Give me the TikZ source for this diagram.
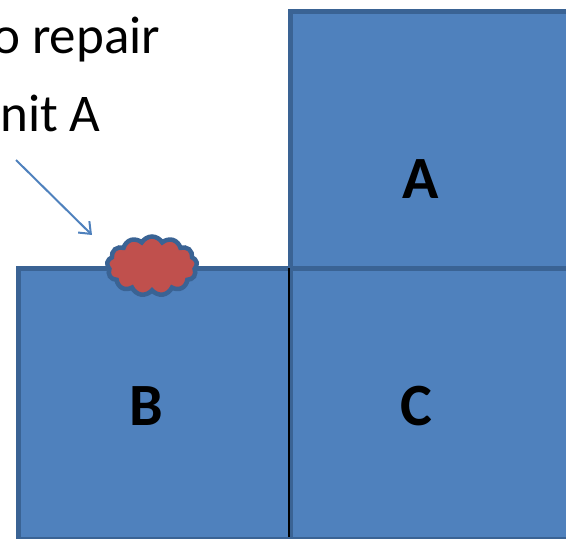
\documentclass[tikz,border=0pt]{standalone}
\usepackage{fontspec}
\setmainfont{Carlito}
\usetikzlibrary{arrows.meta,shapes.symbols}
\definecolor{boxfill}{HTML}{4F81BD}
\definecolor{boxline}{HTML}{3A6394}
\definecolor{dmgfill}{HTML}{C0504D}
\tikzset{
  unitbox/.style={draw=boxline,fill=boxfill,line width=4.5pt,inner sep=0pt,anchor=north west},
  unitlabel/.style={font=\fontsize{60}{60}\selectfont\bfseries,anchor=base,inner sep=0pt},
  note/.style={font=\fontsize{53}{53}\selectfont,anchor=base west,inner sep=0pt},
  pointer/.style={draw=boxfill,line width=2pt,-{Straight Barb[length=10pt,width=16pt,line width=2pt]}}
}
\begin{document}
\begin{tikzpicture}[x=1pt,y=-1pt]
\useasboundingbox (0,0) rectangle (566,539);
\node[unitbox,minimum width=300pt,minimum height=257pt] (A) at (288,9) {};
\node[unitbox,minimum width=273pt,minimum height=271pt] (B) at (16,266) {};
\node[unitbox,minimum width=300pt,minimum height=271pt] (C) at (288.5,266) {};
\coordinate (splittop) at (288.5,268);
\coordinate (splitbot) at (288.5,537);
\draw[black,line width=2pt] (splittop) -- (splitbot);
\node[unitlabel] (la) at (421,198) {A};
\node[unitlabel] (lb) at (146,425) {B};
\node[unitlabel] (lc) at (416,425) {C};
\node[note] (t1) at (-8,53) {o repair};
\node[note] (t2) at (0,131) {nit A};
\coordinate (arrstart) at (16,160);
\coordinate (arrend) at (92,235);
\draw[pointer] (arrstart) -- (arrend);
\node[cloud,cloud puffs=13,cloud puff arc=120,aspect=1.55,draw=boxline,fill=dmgfill,line width=4.5pt,minimum width=90pt,minimum height=59pt,inner sep=0pt] (dmg) at (152,266) {};
\end{tikzpicture}
\end{document}
